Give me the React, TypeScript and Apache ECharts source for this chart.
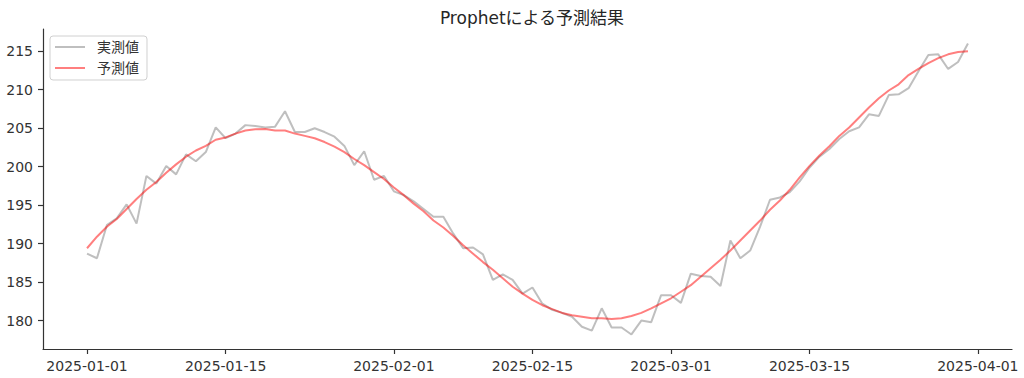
import { useEffect, useRef } from 'react';
import * as echarts from 'echarts';

const titleText = 'Prophetによる予測結果';
const seriesNames = ['実測値', '予測値'];
const startDate = '2025-01-01';

const actual = [
  188.7, 188.1, 192.4, 193.3, 195.1, 192.6, 198.8, 197.8, 200.1, 199.0,
  201.6, 200.7, 201.9, 205.1, 203.7, 204.3, 205.4, 205.3, 205.1, 205.2,
  207.2, 204.5, 204.5, 205.0, 204.5, 203.9, 202.7, 200.2, 202.0, 198.3,
  198.8, 196.8, 196.3, 195.5, 194.5, 193.5, 193.5, 191.3, 189.4, 189.5,
  188.6, 185.3, 186.0, 185.3, 183.5, 184.3, 182.2, 181.4, 181.0, 180.5,
  179.2, 178.7, 181.6, 179.1, 179.1, 178.2, 180.0, 179.8, 183.3, 183.3,
  182.3, 186.1, 185.8, 185.7, 184.5, 190.4, 188.1, 189.1, 192.2, 195.7,
  196.0, 196.7, 198.1, 199.9, 201.3, 202.3, 203.6, 204.6, 205.1, 206.8,
  206.6, 209.3, 209.4, 210.2, 212.4, 214.5, 214.6, 212.7, 213.6, 216.0,
];

const predicted = [
  189.4, 190.9, 192.2, 193.2, 194.5, 195.8, 197.0, 198.0, 199.2, 200.3,
  201.3, 202.1, 202.7, 203.5, 203.8, 204.3, 204.7, 204.85, 204.9, 204.7,
  204.7, 204.3, 204.0, 203.7, 203.2, 202.6, 201.9, 201.0, 200.2, 199.3,
  198.4, 197.3, 196.3, 195.2, 194.2, 193.0, 192.1, 191.0, 189.8, 188.7,
  187.6, 186.6, 185.5, 184.4, 183.5, 182.7, 182.0, 181.5, 181.0, 180.7,
  180.5, 180.3, 180.3, 180.2, 180.3, 180.6, 181.0, 181.6, 182.25, 182.9,
  183.75, 184.6, 185.7, 186.8, 187.9, 189.1, 190.4, 191.7, 193.0, 194.4,
  195.6, 197.0, 198.6, 200.1, 201.45, 202.65, 204.0, 205.1, 206.4, 207.7,
  208.9, 209.9, 210.7, 211.9, 212.7, 213.45, 214.1, 214.6, 214.9, 215.0,
];

const yTicks = [180, 185, 190, 195, 200, 205, 210, 215];
const xTickLabels = [
  '2025-01-01', '2025-01-15', '2025-02-01', '2025-02-15',
  '2025-03-01', '2025-03-15', '2025-04-01',
];

const DAY = 86400000;
const toTs = (s: string) => Date.parse(s + 'T00:00:00Z');
const dates = actual.map((_, i) => toTs(startDate) + i * DAY);
const fmt = (v: number) => new Date(v).toISOString().slice(0, 10);

const FONT = '"DejaVu Sans", "Noto Sans CJK JP", sans-serif';

export default function App() {
  const ref = useRef<HTMLDivElement>(null);
  useEffect(() => {
    if (!ref.current) return;
    const chart = echarts.init(ref.current, null, { renderer: 'svg' });
    const all = actual.concat(predicted);
    const vMin = Math.min(...all);
    const vMax = Math.max(...all);
    const vPad = (vMax - vMin) * 0.05;
    const xSpan = dates[dates.length - 1] - dates[0];
    const xPad = xSpan * 0.05;
    const axisColor = '#333333';
    chart.setOption({
      animation: false,
      backgroundColor: '#ffffff',
      title: {
        text: titleText,
        left: 527,
        top: 4,
        textAlign: 'center',
        textStyle: {
          fontSize: 17,
          fontWeight: 'normal',
          color: '#262626',
          fontFamily: FONT,
        },
      },
      legend: {
        data: seriesNames,
        orient: 'vertical',
        left: 50,
        top: 36,
        icon: 'rect',
        itemWidth: 30,
        itemHeight: 2,
        itemGap: 7,
        padding: [4, 8, 5, 5],
        backgroundColor: 'rgba(255,255,255,0.8)',
        borderColor: '#d0d0d0',
        borderWidth: 1,
        borderRadius: 3,
        textStyle: {
          fontSize: 14,
          color: '#333333',
          fontFamily: FONT,
          padding: [0, 0, 0, 7],
        },
      },
      grid: { left: 43, right: 12, top: 29, bottom: 29, containLabel: false },
      xAxis: {
        type: 'value',
        min: dates[0] - xPad,
        max: dates[dates.length - 1] + xPad,
        splitLine: { show: false },
        axisLine: { lineStyle: { color: axisColor, width: 1.2 } },
        axisTick: {
          length: 5,
          lineStyle: { color: axisColor, width: 1.2 },
          customValues: xTickLabels.map(toTs),
        },
        axisLabel: {
          customValues: xTickLabels.map(toTs),
          formatter: (v: number) => fmt(v),
          fontSize: 14,
          color: '#333333',
          fontFamily: FONT,
          margin: 10,
        },
      },
      yAxis: {
        type: 'value',
        min: vMin - vPad,
        max: vMax + vPad,
        splitLine: { show: false },
        axisLine: { show: true, lineStyle: { color: axisColor, width: 1.2 } },
        axisTick: {
          show: true,
          length: 5,
          lineStyle: { color: axisColor, width: 1.2 },
          customValues: yTicks,
        },
        axisLabel: {
          customValues: yTicks,
          fontSize: 14,
          color: '#333333',
          fontFamily: FONT,
          margin: 10,
        },
      },
      series: [
        {
          name: seriesNames[0],
          type: 'line',
          data: dates.map((d, i) => [d, actual[i]]),
          showSymbol: false,
          color: 'rgba(128,128,128,0.5)',
          lineStyle: { width: 2, color: 'rgba(128,128,128,0.5)' },
        },
        {
          name: seriesNames[1],
          type: 'line',
          data: dates.map((d, i) => [d, predicted[i]]),
          showSymbol: false,
          color: 'rgba(255,0,0,0.5)',
          lineStyle: { width: 2, color: 'rgba(255,0,0,0.5)' },
        },
      ],
    });
    return () => chart.dispose();
  }, []);
  return (
    <div
      ref={ref}
      style={{ position: 'fixed', left: 0, top: 0, width: 1024, height: 378, background: '#fff' }}
    />
  );
}
